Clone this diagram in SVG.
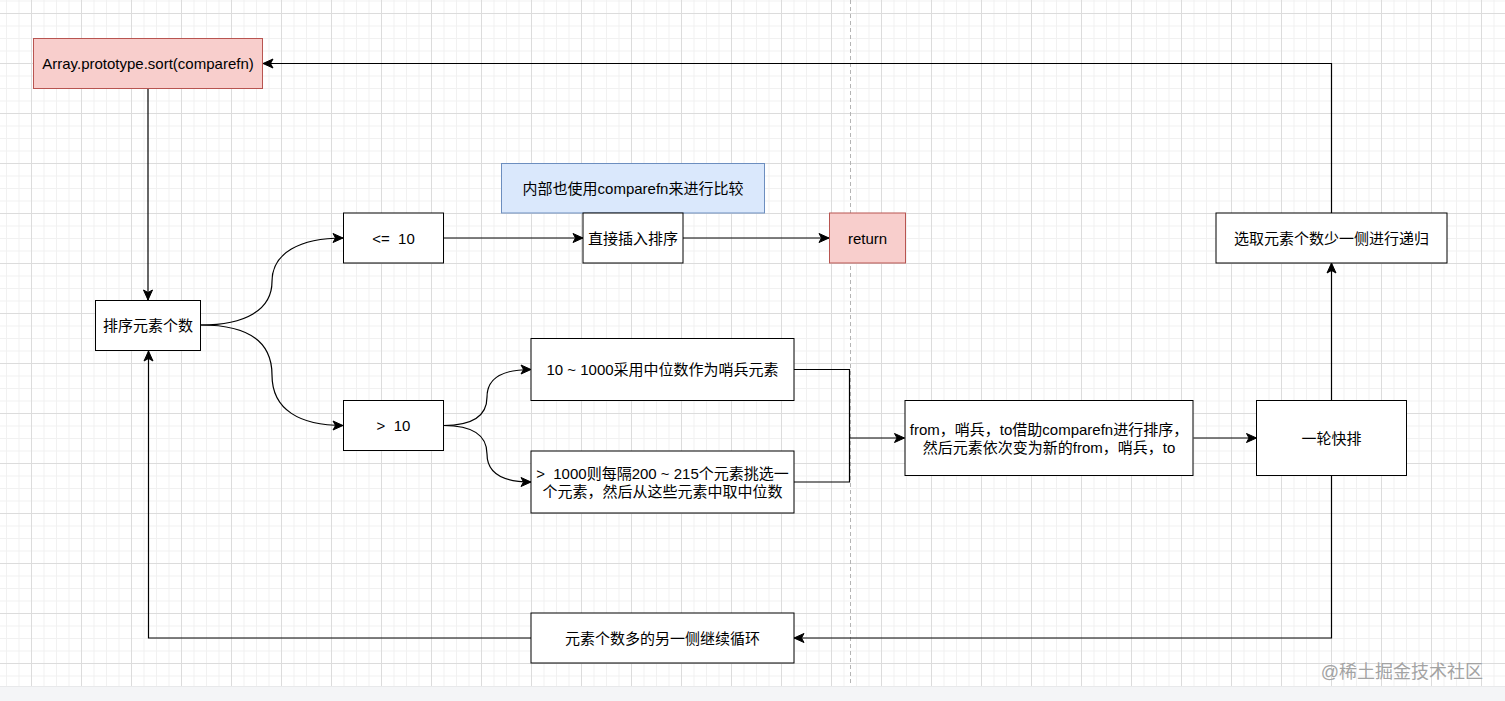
<svg xmlns="http://www.w3.org/2000/svg" width="1505" height="701" viewBox="0 0 1505 701">
<style>
text{font-family:"Liberation Sans","Noto Sans CJK SC",sans-serif;font-size:15px;fill:#000;text-anchor:middle;white-space:pre}
.box{fill:#fff;stroke:#000;stroke-width:1}
.red{fill:#f8cecc;stroke:#b85450;stroke-width:1}
.blue{fill:#dae8fc;stroke:#6c8ebf;stroke-width:1}
.edge{fill:none;stroke:#000;stroke-width:1.2}
.arr{marker-end:url(#ah)}
</style>
<defs>
<pattern id="grid" patternUnits="userSpaceOnUse" x="31" y="13" width="50" height="50">
<rect width="50" height="50" fill="#fff"/>
<rect x="12.5" width="1" height="50" fill="#f1f1f1"/>
<rect x="25" width="1" height="50" fill="#f1f1f1"/>
<rect x="37.5" width="1" height="50" fill="#f1f1f1"/>
<rect y="12.5" width="50" height="1" fill="#f1f1f1"/>
<rect y="25" width="50" height="1" fill="#f1f1f1"/>
<rect y="37.5" width="50" height="1" fill="#f1f1f1"/>
<rect x="0" width="1" height="50" fill="#dcdcdc"/>
<rect y="0" width="50" height="1" fill="#dcdcdc"/>
</pattern>
<marker id="ah" markerUnits="userSpaceOnUse" viewBox="-12 -6 13 12" markerWidth="13" markerHeight="12" refX="0" refY="0" orient="auto" overflow="visible">
<path d="M0,0 L-10,-4.5 L-7.5,0 L-10,4.5 Z" fill="#000" stroke="#000" stroke-width="1"/>
</marker>
</defs>

<rect x="0" y="0" width="1505" height="686" fill="url(#grid)"/>
<rect x="0" y="686" width="1505" height="15" fill="#f4f5f7"/>
<line x1="0" y1="686.5" x2="1505" y2="686.5" stroke="#e8e9eb" stroke-width="1"/>
<line x1="850.5" y1="0" x2="850.5" y2="686" stroke="#b4b4b4" stroke-width="1" stroke-dasharray="4 3"/>

<g id="connectors">
<path class="edge arr" d="M148,88.5 V300"/>
<path class="edge arr" d="M201,325 C245,325 272,310 272,281.5 C272,253 300,238 343,238"/>
<path class="edge arr" d="M201,325 C245,325 272,340 272,375 C272,410 300,425.5 343,425.5"/>
<path class="edge arr" d="M443.5,238 H583"/>
<path class="edge arr" d="M683,238 H829"/>
<path class="edge arr" d="M443.5,425.5 C470,425.5 487,418 487,397 C487,376 505,369.5 531,369.5"/>
<path class="edge arr" d="M443.5,425.5 C470,425.5 487,433 487,454 C487,475 505,482 531,482"/>
<path class="edge" d="M794,369.5 H849.5 V482 H794"/>
<path class="edge arr" d="M849.5,438 H904.5"/>
<path class="edge arr" d="M1193.5,438 H1256.5"/>
<path class="edge arr" d="M1331.5,400.5 V263"/>
<path class="edge arr" d="M1331.5,213 V63.5 H263"/>
<path class="edge arr" d="M1331.5,475.5 V638 H794"/>
<path class="edge arr" d="M531,638 H148.5 V351"/>
</g>

<g id="node-sort">
<rect class="red" x="33.5" y="38.5" width="229" height="50"/>
<text x="148" y="68.5">Array.prototype.sort(comparefn)</text>
</g>
<g id="node-count">
<rect class="box" x="95.5" y="300.5" width="105" height="50"/>
<text x="148" y="331">排序元素个数</text>
</g>
<g id="node-le10">
<rect class="box" x="343.5" y="213" width="100" height="50"/>
<text x="393.5" y="243.5">&lt;=  10</text>
</g>
<g id="node-gt10">
<rect class="box" x="343.5" y="400.5" width="100" height="50"/>
<text x="393.5" y="431">&gt;  10</text>
</g>
<g id="node-note">
<rect class="blue" x="501.5" y="163.5" width="263" height="49.5"/>
<text x="633" y="193.5">内部也使用comparefn来进行比较</text>
</g>
<g id="node-insert">
<rect class="box" x="583" y="213" width="100" height="50"/>
<text x="633" y="243.5">直接插入排序</text>
</g>
<g id="node-return">
<rect class="red" x="829.5" y="213" width="76" height="50"/>
<text x="867.5" y="243.5">return</text>
</g>
<g id="node-median">
<rect class="box" x="531" y="338.5" width="263" height="62"/>
<text x="662.5" y="375">10 ~ 1000采用中位数作为哨兵元素</text>
</g>
<g id="node-sample">
<rect class="box" x="531" y="451" width="263" height="62"/>
<text x="662.5" y="478.5">&gt;  1000则每隔200 ~ 215个元素挑选一</text>
<text x="662.5" y="496.5">个元素，然后从这些元素中取中位数</text>
</g>
<g id="node-fromto">
<rect class="box" x="905" y="400.5" width="288" height="75"/>
<text x="1049" y="434.5">from，哨兵，to借助comparefn进行排序，</text>
<text x="1049" y="452.5">然后元素依次变为新的from，哨兵，to</text>
</g>
<g id="node-round">
<rect class="box" x="1256.5" y="400.5" width="150" height="75"/>
<text x="1331.5" y="443.5">一轮快排</text>
</g>
<g id="node-recurse">
<rect class="box" x="1216" y="213" width="231" height="50"/>
<text x="1331.5" y="243.5">选取元素个数少一侧进行递归</text>
</g>
<g id="node-loop">
<rect class="box" x="531" y="613" width="263" height="50"/>
<text x="662.5" y="643.5">元素个数多的另一侧继续循环</text>
</g>
<text x="1483" y="677.5" style="font-size:18px;fill:#a3a3a3;text-anchor:end">@稀土掘金技术社区</text>
</svg>
